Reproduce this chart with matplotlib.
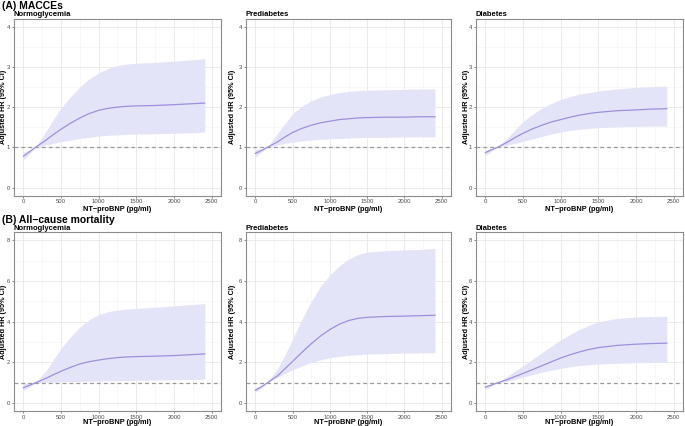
import numpy as np
import matplotlib.pyplot as plt
from matplotlib.ticker import MultipleLocator

plt.rcParams['font.family'] = ['Liberation Sans', 'DejaVu Sans']

x_bnp = [0, 80, 160, 300, 400, 500, 625, 750, 875, 1000, 1125, 1250, 1375, 1500, 1750, 2000, 2200, 2410]

# (A) MACCEs
macce_norm_hr = [0.78, 0.89, 1.00, 1.18, 1.32, 1.45, 1.60, 1.73, 1.84, 1.92, 1.97, 2.00, 2.02, 2.03, 2.04, 2.06, 2.08, 2.10]
macce_norm_up = [0.88, 0.93, 1.00, 1.40, 1.70, 1.98, 2.25, 2.50, 2.70, 2.85, 2.96, 3.03, 3.07, 3.09, 3.11, 3.14, 3.17, 3.20]
macce_norm_lo = [0.69, 0.84, 1.00, 1.06, 1.10, 1.14, 1.18, 1.22, 1.25, 1.28, 1.30, 1.31, 1.32, 1.33, 1.34, 1.35, 1.36, 1.38]

macce_pre_hr = [0.85, 0.92, 1.00, 1.14, 1.26, 1.37, 1.47, 1.55, 1.61, 1.65, 1.69, 1.71, 1.73, 1.74, 1.75, 1.75, 1.76, 1.76]
macce_pre_up = [0.95, 0.97, 1.00, 1.35, 1.60, 1.84, 2.02, 2.16, 2.25, 2.31, 2.36, 2.39, 2.41, 2.42, 2.43, 2.44, 2.45, 2.45]
macce_pre_lo = [0.76, 0.88, 1.00, 1.06, 1.10, 1.13, 1.16, 1.18, 1.20, 1.21, 1.22, 1.23, 1.24, 1.25, 1.25, 1.26, 1.26, 1.26]

macce_dia_hr = [0.87, 0.94, 1.00, 1.14, 1.25, 1.35, 1.46, 1.55, 1.63, 1.69, 1.75, 1.80, 1.84, 1.87, 1.91, 1.93, 1.95, 1.96]
macce_dia_up = [0.93, 0.96, 1.00, 1.25, 1.45, 1.64, 1.82, 1.97, 2.09, 2.19, 2.26, 2.32, 2.36, 2.40, 2.45, 2.49, 2.51, 2.52]
macce_dia_lo = [0.80, 0.90, 1.00, 1.06, 1.10, 1.15, 1.21, 1.27, 1.33, 1.38, 1.42, 1.45, 1.47, 1.49, 1.51, 1.52, 1.53, 1.53]

# (B) All-cause mortality
death_norm_hr = [0.76, 0.88, 1.00, 1.22, 1.40, 1.57, 1.76, 1.93, 2.04, 2.12, 2.19, 2.24, 2.27, 2.29, 2.31, 2.34, 2.38, 2.42]
death_norm_up = [0.96, 0.98, 1.00, 1.60, 2.15, 2.70, 3.25, 3.75, 4.10, 4.35, 4.50, 4.58, 4.63, 4.66, 4.72, 4.78, 4.84, 4.90]
death_norm_lo = [0.62, 0.80, 1.00, 1.03, 1.04, 1.05, 1.06, 1.07, 1.08, 1.09, 1.10, 1.11, 1.12, 1.13, 1.14, 1.15, 1.16, 1.18]

death_pre_hr = [0.63, 0.80, 1.00, 1.35, 1.70, 2.05, 2.50, 2.92, 3.30, 3.62, 3.88, 4.06, 4.17, 4.22, 4.26, 4.28, 4.30, 4.32]
death_pre_up = [0.75, 0.88, 1.00, 1.70, 2.40, 3.15, 4.12, 5.00, 5.75, 6.30, 6.75, 7.08, 7.30, 7.43, 7.50, 7.53, 7.56, 7.60]
death_pre_lo = [0.52, 0.75, 1.00, 1.28, 1.47, 1.64, 1.83, 2.00, 2.13, 2.23, 2.30, 2.35, 2.38, 2.41, 2.44, 2.46, 2.47, 2.48]

death_dia_hr = [0.79, 0.89, 1.00, 1.17, 1.32, 1.46, 1.65, 1.84, 2.03, 2.22, 2.38, 2.52, 2.64, 2.73, 2.84, 2.90, 2.93, 2.95]
death_dia_up = [0.88, 0.94, 1.00, 1.35, 1.60, 1.84, 2.15, 2.48, 2.80, 3.11, 3.38, 3.62, 3.83, 4.00, 4.17, 4.24, 4.26, 4.27]
death_dia_lo = [0.68, 0.84, 1.00, 1.09, 1.18, 1.28, 1.40, 1.52, 1.62, 1.71, 1.79, 1.85, 1.89, 1.92, 1.96, 1.99, 2.00, 2.00]

groups = ["Normoglycemia", "Prediabetes", "Diabetes"]
rows = [
    ("(A) MACCEs", 4, [(macce_norm_hr, macce_norm_up, macce_norm_lo),
                       (macce_pre_hr, macce_pre_up, macce_pre_lo),
                       (macce_dia_hr, macce_dia_up, macce_dia_lo)]),
    ("(B) All\u2212cause mortality", 8, [(death_norm_hr, death_norm_up, death_norm_lo),
                                    (death_pre_hr, death_pre_up, death_pre_lo),
                                    (death_dia_hr, death_dia_up, death_dia_lo)]),
]

W, H = 685, 426
fig = plt.figure(figsize=(W / 100, H / 100), dpi=100)

col_x = [(14, 221), (246, 451), (476, 683)]
row_y = [(18.5, 195.7), (232.3, 411.3)]
xlab_off = [10.0, 7.5]     # px from axis bottom to top of x label
ylab_off = [10.0, 13.0, 10.0]  # px from axis left to y label centre

for r, (title, ymax, panels) in enumerate(rows):
    top, bot = row_y[r]
    fig.text(2 / W, 1 - (top - 12.5) / H, title, fontsize=7.5, fontweight="bold",
             ha="left", va="center")
    for c, (hr, up, lo) in enumerate(panels):
        left, right = col_x[c]
        w, h = right - left, bot - top
        ax = fig.add_axes([left / W, 1 - bot / H, w / W, h / H])
        ax.fill_between(x_bnp, lo, up, color="#e4e4f8", lw=0)
        ax.plot(x_bnp, hr, color="#9d8fdc", lw=0.9)
        ax.axhline(1, color="#999999", lw=0.9, ls=(0, (3, 2.5)))
        ax.set_xlim(-125, 2625)
        ax.set_ylim(-0.05 * ymax, 1.05 * ymax)
        ax.xaxis.set_major_locator(MultipleLocator(500))
        ax.xaxis.set_minor_locator(MultipleLocator(250))
        ax.yaxis.set_major_locator(MultipleLocator(ymax / 4))
        ax.yaxis.set_minor_locator(MultipleLocator(ymax / 8))
        ax.grid(True, which="major", color="#e8e8e8", lw=0.6)
        ax.grid(True, which="minor", color="#f3f3f3", lw=0.4)
        ax.set_axisbelow(True)
        for s in ax.spines.values():
            s.set_color("#8c8c8c")
            s.set_linewidth(0.8)
        ax.tick_params(which="major", length=1.5, width=0.5, color="#555555",
                       labelsize=4.3, labelcolor="#4d4d4d", pad=1.2)
        ax.tick_params(which="minor", length=0)
        ax.set_xlabel("NT\u2212proBNP (pg/ml)", fontsize=5.3, fontweight="bold", va="top")
        ax.xaxis.set_label_coords(0.5, -xlab_off[r] / h)
        ax.set_ylabel("Adjusted HR (95% CI)", fontsize=5.2, fontweight="bold", va="center")
        ax.yaxis.set_label_coords(-ylab_off[c] / w, 0.5)
        ax.set_title(groups[c], fontsize=5.5, fontweight="bold", loc="left", pad=1.5)

fig.savefig("out.png", dpi=100)
